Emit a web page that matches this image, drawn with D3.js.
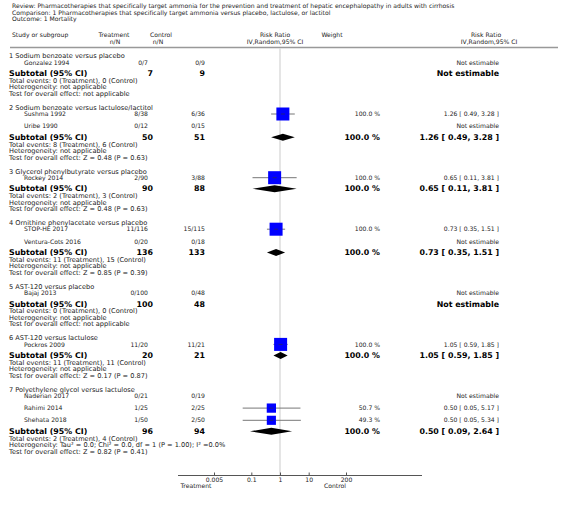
<!DOCTYPE html>
<html><head><meta charset="utf-8">
<script src="https://cdn.jsdelivr.net/npm/d3@7"></script>
<style>
body{margin:0;background:#fff;}
svg{display:block;font-family:"DejaVu Sans",Verdana,sans-serif;}
</style></head>
<body><svg id="c" width="566" height="505"></svg>
<script>
const titleLines = [
  "Review:  Pharmacotherapies that specifically target ammonia for the prevention and treatment of hepatic encephalopathy in adults with cirrhosis",
  "Comparison:  1 Pharmacotherapies that specifically target ammonia versus placebo, lactulose, or lactitol",
  "Outcome:  1 Mortality"
];
const groupNames = [
  "1 Sodium benzoate versus placebo",
  "2 Sodium benzoate versus lactulose/lactitol",
  "3 Glycerol phenylbutyrate versus placebo",
  "4 Ornithine phenylacetate versus placebo",
  "5 AST-120 versus placebo",
  "6 AST-120 versus lactulose",
  "7 Polyethylene glycol versus lactulose"
];
const studyNames = ["Gonzalez 1994","Sushma 1992","Uribe 1990","Rockey 2014","STOP-HE 2017","Ventura-Cots 2016","Bajaj 2013","Pockros 2009","Naderian 2017","Rahimi 2014","Shehata 2018"];
const studyGroup = [0,1,1,2,3,3,4,5,6,6,6];
const treatEvents = [0,8,0,2,11,0,0,11,0,1,1];
const treatTotal  = [7,38,12,90,116,20,100,20,21,25,50];
const ctrlEvents  = [0,6,0,3,15,0,0,11,0,2,2];
const ctrlTotal   = [9,36,15,88,115,18,48,21,19,25,50];
const studyRR     = [null,1.26,null,0.65,0.73,null,null,1.05,null,0.50,0.50];
const studyLo     = [null,0.49,null,0.11,0.35,null,null,0.59,null,0.05,0.05];
const studyHi     = [null,3.28,null,3.81,1.51,null,null,1.85,null,5.17,5.34];
const studyWeight = [null,100.0,null,100.0,100.0,null,null,100.0,null,50.7,49.3];

const subTreatN = [7,50,90,136,100,20,96];
const subCtrlN  = [9,51,88,133,48,21,94];
const subRR     = [null,1.26,0.65,0.73,null,1.05,0.50];
const subLo     = [null,0.49,0.11,0.35,null,0.59,0.09];
const subHi     = [null,3.28,3.81,1.51,null,1.85,2.64];
const subWeight = [null,100.0,100.0,100.0,null,100.0,100.0];
const subEventsT = [0,8,2,11,0,11,2];
const subEventsC = [0,6,3,15,0,11,4];
const subHetero = ["Heterogeneity: not applicable","Heterogeneity: not applicable","Heterogeneity: not applicable","Heterogeneity: not applicable","Heterogeneity: not applicable","Heterogeneity: not applicable","Heterogeneity: Tau\u00B2 = 0.0; Chi\u00B2 = 0.0, df = 1 (P = 1.00); I\u00B2 =0.0%"];
const subTest = ["Test for overall effect: not applicable","Test for overall effect: Z = 0.48 (P = 0.63)","Test for overall effect: Z = 0.48 (P = 0.63)","Test for overall effect: Z = 0.85 (P = 0.39)","Test for overall effect: not applicable","Test for overall effect: Z = 0.17 (P = 0.87)","Test for overall effect: Z = 0.82 (P = 0.41)"];

const tickValues = [0.005,0.1,1,10,200];
const tickLabels = ["0.005","0.1","1","10","200"];
const favourLeft = "Treatment", favourRight = "Control";

const svg = d3.select("#c");
const FS = 6.1, FG = 6.6, FB = 7.9;
const txt = "#222";
const x = d3.scaleLog().domain([0.005,200]).range([214,346]);
const boxSize = d3.scaleSqrt().domain([0,100]).range([0,13]);
const fmt2 = d3.format(".2f");
const fmtW = d3.format(".1f");
const ciText = (r,l,h) => `${fmt2(r)} [ ${fmt2(l)}, ${fmt2(h)} ]`;

function t(xp,yp,s,opt={}){
  return svg.append("text").attr("x",xp).attr("y",yp).attr("dy","0.35em")
    .attr("font-size",opt.size||FS).attr("font-weight",opt.bold?"bold":"normal")
    .attr("text-anchor",opt.anchor||"start").attr("fill",opt.fill||txt).text(s);
}

// Titles
titleLines.forEach((s,i)=>t(12,6+i*6.6,s));
// Column headers
t(12,35,"Study or subgroup");
t(114,35,"Treatment",{anchor:"middle"}); t(115,42,"n/N",{anchor:"middle"});
t(161,35,"Control",{anchor:"middle"}); t(158,42,"n/N",{anchor:"middle"});
t(275,35,"Risk Ratio",{anchor:"middle"}); t(275,42,"IV,Random,95% CI",{anchor:"middle"});
t(332,35,"Weight",{anchor:"middle"});
t(486,35,"Risk Ratio",{anchor:"middle"}); t(489,42,"IV,Random,95% CI",{anchor:"middle"});
svg.append("line").attr("x1",10).attr("x2",558).attr("y1",47.5).attr("y2",47.5).attr("stroke","#999").attr("stroke-width",1.5);

// reference line
const axisY = 475.5;
svg.append("line").attr("x1",x(1)).attr("x2",x(1)).attr("y1",48).attr("y2",axisY).attr("stroke","#ddd").attr("stroke-width",1.5);

// Layout rows
let y = 56;
groupNames.forEach((g,gi)=>{
  t(9,y,g,{size:FG});
  let sy = y + 6.5;
  const idx = studyNames.map((_,i)=>i).filter(i=>studyGroup[i]===gi);
  idx.forEach((i,k)=>{
    const ry = sy + k*12.2;
    t(24,ry,studyNames[i]);
    t(148,ry,`${treatEvents[i]}/${treatTotal[i]}`,{anchor:"end"});
    t(205,ry,`${ctrlEvents[i]}/${ctrlTotal[i]}`,{anchor:"end"});
    if(studyRR[i]==null){
      t(499,ry,"Not estimable",{anchor:"end"});
    } else {
      svg.append("line").attr("x1",x(studyLo[i])).attr("x2",x(studyHi[i])).attr("y1",ry).attr("y2",ry).attr("stroke","#777").attr("stroke-width",1);
      const b = boxSize(studyWeight[i]);
      svg.append("rect").attr("x",x(studyRR[i])-b/2).attr("y",ry-b/2).attr("width",b).attr("height",b).attr("fill","#0000ff");
      svg.append("line").attr("x1",x(studyRR[i])-2).attr("x2",x(studyRR[i])+2).attr("y1",ry).attr("y2",ry).attr("stroke","#333").attr("stroke-width",0.6);
      t(380,ry,fmtW(studyWeight[i])+" %",{anchor:"end"});
      t(499,ry,ciText(studyRR[i],studyLo[i],studyHi[i]),{anchor:"end"});
    }
  });
  const last = sy + (idx.length-1)*12.2;
  const suby = last + 11;
  t(9,suby,"Subtotal (95% CI)",{bold:true,size:FB,fill:"#000"});
  t(153,suby,subTreatN[gi],{bold:true,size:FB,anchor:"end",fill:"#000"});
  t(205,suby,subCtrlN[gi],{bold:true,size:FB,anchor:"end",fill:"#000"});
  if(subRR[gi]==null){
    t(499,suby,"Not estimable",{bold:true,size:FB,anchor:"end",fill:"#000"});
  } else {
    const h = 3.5;
    const pts = [[x(subLo[gi]),suby],[x(subRR[gi]),suby-h],[x(subHi[gi]),suby],[x(subRR[gi]),suby+h]];
    svg.append("path").attr("d",d3.line()(pts)+"Z").attr("fill","#000");
    t(380,suby,fmtW(subWeight[gi])+" %",{bold:true,size:FB,anchor:"end",fill:"#000"});
    t(499,suby,ciText(subRR[gi],subLo[gi],subHi[gi]),{bold:true,size:FB,anchor:"end",fill:"#000"});
  }
  t(9,suby+7.2,`Total events: ${subEventsT[gi]} (Treatment), ${subEventsC[gi]} (Control)`,{size:FG});
  t(9,suby+13.6,subHetero[gi],{size:FG});
  t(9,suby+20,subTest[gi],{size:FG});
  y = suby + 34;
});

// Axis
svg.append("line").attr("x1",178).attr("x2",422).attr("y1",axisY).attr("y2",axisY).attr("stroke","#555").attr("stroke-width",1);
const ax = d3.axisBottom(x).tickValues(tickValues).tickFormat((d,i)=>tickLabels[i]).tickSizeInner(-3).tickSizeOuter(0).tickPadding(2);
const g = svg.append("g").attr("transform",`translate(0,${axisY})`).call(ax);
g.select(".domain").remove();
g.selectAll(".tick line").attr("stroke","#555");
g.selectAll("text").attr("font-size",FS).attr("font-family","DejaVu Sans").attr("fill",txt);
t(196,486,favourLeft,{anchor:"middle"});
t(335,486,favourRight,{anchor:"middle"});
</script></body></html>
